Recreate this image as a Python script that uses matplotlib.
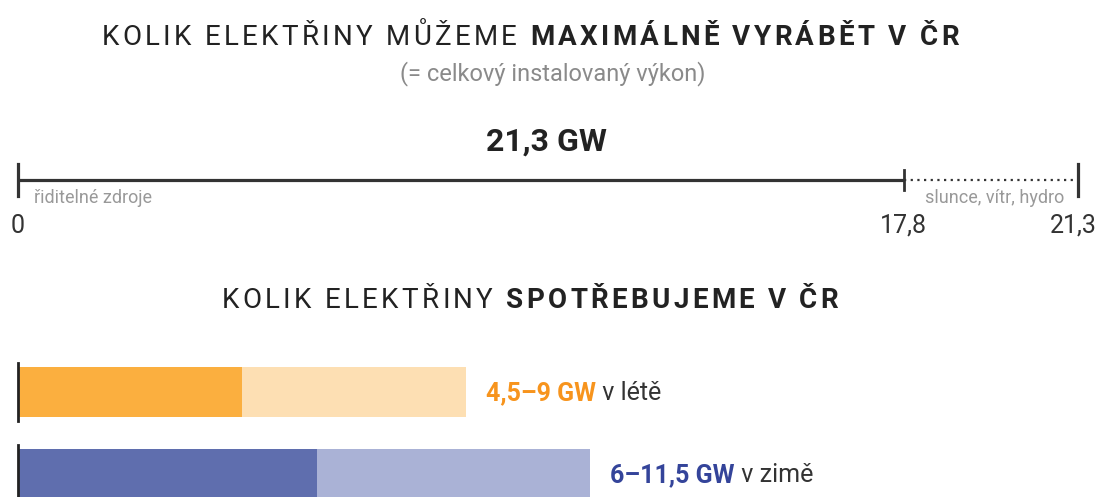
import matplotlib
matplotlib.use("Agg")
import matplotlib.pyplot as plt
from matplotlib.font_manager import FontProperties, findfont, get_font

plt.rcParams['font.family'] = ['Roboto', 'DejaVu Sans']

# data
installed_total = 21.3
dispatchable = 17.8
axis_ticks = [0, 17.8, 21.3]
axis_tick_labels = ["0", "17,8", "21,3"]
seasons = ["v létě", "v zimě"]
range_labels = ["4,5–9 GW", "6–11,5 GW"]
consumption_low = [4.5, 6.0]
consumption_high = [9.0, 11.5]
dark_colors = ["#fbaf3f", "#5f6eae"]
light_colors = ["#fddfb3", "#aab2d6"]
label_colors = ["#f7941d", "#34449a"]

W, H = 1098, 497
DPI = 100
x0_px = 18
px_per_gw = (1078 - x0_px) / installed_total

fig = plt.figure(figsize=(W / DPI, H / DPI), dpi=DPI)
ax = fig.add_axes([0, 0, 1, 1])
ax.set_xlim(-x0_px / px_per_gw, (W - x0_px) / px_per_gw)
ax.set_ylim(H, 0)
ax.axis('off')

renderer = fig.canvas.get_renderer()


def px2gw(px):
    return (px - x0_px) / px_per_gw


def advance(ch, weight, size):
    font = get_font(findfont(FontProperties(family='Roboto', weight=weight)))
    font.set_size(size, DPI)
    return font.load_char(ord(ch)).linearHoriAdvance / 65536


def tracked_title(parts, baseline, center_px, size=20, tracking=3.3):
    # parts: list of (text, weight); drawn letter by letter with extra spacing
    chars = [(c, w) for txt, w in parts for c in txt]
    advs = [advance(c, w, size) for c, w in chars]
    total = sum(advs) + tracking * (len(chars) - 1)
    x = center_px - total / 2
    for (c, w), a in zip(chars, advs):
        if c != ' ':
            ax.text(px2gw(x), baseline, c, fontsize=size, fontweight=w,
                    color='#222222', ha='left', va='baseline')
        x += a + tracking


def mixed_text(parts, y, left_px, size):
    # parts: list of (text, weight, color)
    objs = []
    for txt, weight, color in parts:
        t = ax.text(0, y, txt, fontsize=size, fontweight=weight, color=color,
                    va='center', ha='left')
        objs.append(t)
    widths = [t.get_window_extent(renderer).width for t in objs]
    start = left_px
    for t, w in zip(objs, widths):
        t.set_x(px2gw(start))
        start += w


# top section
tracked_title([("KOLIK ELEKTŘINY MŮŽEME ", 'normal'),
               ("MAXIMÁLNĚ VYRÁBĚT V ČR", 'bold')], 45, 530)
ax.text(px2gw(553), 74, "(= celkový instalovaný výkon)", fontsize=17,
        color='#8a8a8a', ha='center', va='center')
ax.text(px2gw(546), 142, f"{installed_total}".replace('.', ',') + " GW",
        fontsize=23, fontweight='bold', color='#222222', ha='center', va='center')

line_y = 180
ax.plot([0, dispatchable], [line_y, line_y], color='#333333', lw=2.3, solid_capstyle='butt')
ax.plot([dispatchable, installed_total], [line_y, line_y], color='#333333', lw=1.6,
        linestyle=(0, (1, 2)))
ax.plot([0, 0], [164, 196], color='#333333', lw=2.3)
ax.plot([dispatchable, dispatchable], [170, 190], color='#333333', lw=2.0)
ax.plot([installed_total, installed_total], [164, 196], color='#333333', lw=2.3)

ax.text(px2gw(34), 198, "řiditelné zdroje", fontsize=13, color='#999999',
        ha='left', va='center')
ax.text(px2gw(1064), 198, "slunce, vítr, hydro", fontsize=13,
        color='#999999', ha='right', va='center')

for v, lab in zip(axis_ticks, axis_tick_labels):
    xv = v
    if v == installed_total:
        xv = v - 5 / px_per_gw
    ax.text(xv, 226, lab, fontsize=18, color='#333333', ha='center', va='center')

# bottom section
tracked_title([("KOLIK ELEKTŘINY ", 'normal'),
               ("SPOTŘEBUJEME V ČR", 'bold')], 308, 530)

bar_y = [392, 474]
bar_h = 50
ax.barh(bar_y, consumption_high, height=bar_h, left=0, color=light_colors)
ax.barh(bar_y, consumption_low, height=bar_h, left=0, color=dark_colors)
for y in bar_y:
    ax.plot([0, 0], [y - 29, y + 29], color='#222222', lw=2.0)

for y, hi, rl, s, c in zip(bar_y, consumption_high, range_labels, seasons, label_colors):
    right_px = x0_px + hi * px_per_gw
    mixed_text([(rl, 'bold', c), (" " + s, 'normal', '#333333')], y + 1,
               left_px=right_px + 20, size=18)

fig.savefig("out.png", dpi=DPI)
